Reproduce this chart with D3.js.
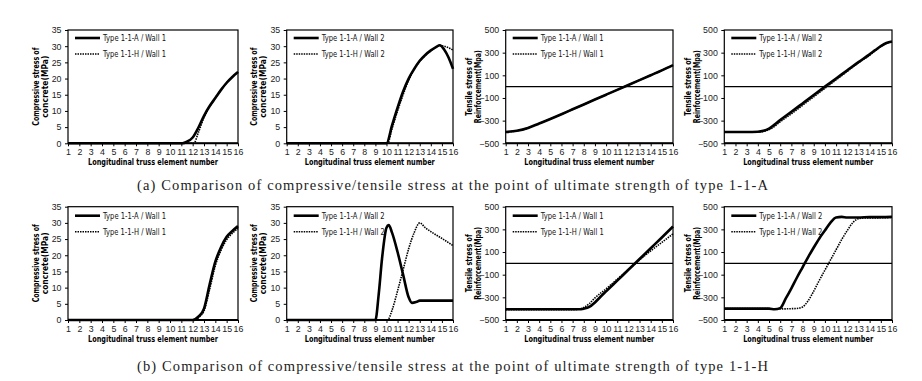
<!DOCTYPE html>
<html><head><meta charset="utf-8">
<script src="https://cdn.jsdelivr.net/npm/d3@7"></script>
<style>body{margin:0;background:#fff}svg{display:block}</style>
</head><body>
<svg id="c" width="922" height="381"></svg>
<script>
// ---------- tick labels ----------
const xTicks = d3.range(1, 17);
const compTicks = [0, 5, 10, 15, 20, 25, 30, 35];
const tensTicks = [-500, -300, -100, 100, 300, 500];
const xTitle = "Longitudinal truss element number";
const compTitle = ["Compressive stress of", "concrete(MPa)"];
const tensTitle = ["Tensile stress of", "Reinforcement(Mpa)"];
const captions = [
  "(a) Comparison of compressive/tensile stress at the point of ultimate strength of type 1-1-A",
  "(b) Comparison of compressive/tensile stress at the point of ultimate strength of type 1-1-H"
];
const ints = d3.range(1, 17);

// ---------- data (row a) ----------
const a1A_x = [1,2,3,4,5,6,7,8,9,10,11,11.1,11.5,12,12.5,13,13.5,14,14.5,15,15.5,16];
const a1A_y = [0,0,0,0,0,0,0,0,0,0,0,0,0.5,1.8,4.8,8.5,11.5,14,16.5,18.7,20.5,22];
const a1H_x = [1,2,3,4,5,6,7,8,9,10,11,12,12.1,12.5,13,13.5,14,14.5,15,15.5,16];
const a1H_y = [0,0,0,0,0,0,0,0,0,0,0,0,0,3.3,8,11.3,14,16.5,18.7,20.5,22];

const a2A_x = [1,2,3,4,5,6,7,8,9,10,10.5,11,11.5,12,12.5,13,13.5,14,14.5,14.8,15.2,15.6,16];
const a2A_y = [0,0,0,0,0,0,0,0,0,0,5.5,11,16,20,23,25.5,27.3,28.7,29.8,30.3,29,26.5,23];
const a2H_x = [1,2,3,4,5,6,7,8,9,10,10.1,10.5,11,11.5,12,12.5,13,13.5,14,14.5,14.8,15.2,15.6,16];
const a2H_y = [0,0,0,0,0,0,0,0,0,0,0,4.5,10,15,19.5,22.8,25.3,27.2,28.6,29.7,30.2,30,29.5,28.8];

const a3A_x = ints;
const a3A_y = [-400,-390,-365,-325,-285,-243,-200,-157,-114,-71,-28,15,58,101,144,190];
const a3H_x = ints;
const a3H_y = [-400,-390,-365,-325,-285,-243,-200,-157,-114,-71,-28,15,58,101,144,190];

const a4A_x = [1,2,3,4,4.5,5,5.5,6,7,8,9,10,11,12,13,14,14.5,15,15.5,16];
const a4A_y = [-400,-400,-400,-398,-390,-370,-335,-295,-222,-148,-74,0,72,144,216,285,322,358,385,398];
const a4H_x = [1,2,3,4,4.5,5,5.5,6,7,8,9,10,11,12,13,14,14.5,15,15.5,16];
const a4H_y = [-402,-402,-402,-400,-395,-380,-350,-310,-240,-165,-90,-15,60,135,210,278,318,355,383,397];

// ---------- data (row b) ----------
const b1A_x = [1,2,3,4,5,6,7,8,9,10,11,12,12.5,13,13.5,14,14.5,15,15.5,16];
const b1A_y = [0,0,0,0,0,0,0,0,0,0,0,0,1,3.5,11,18,22.5,25.7,27.5,29];
const b1H_x = [1,2,3,4,5,6,7,8,9,10,11,12,12.2,12.6,13,13.5,14,14.5,15,15.5,16];
const b1H_y = [0,0,0,0,0,0,0,0,0,0,0,0,0,1,2.8,9.5,16.8,21.5,24.8,26.8,28.3];

const b2A_x = [1,2,3,4,5,6,7,8,9,9.3,9.6,10,10.2,10.5,11,11.5,12,12.3,12.7,13,14,15,16];
const b2A_y = [0,0,0,0,0,0,0,0,0,8,19,28.5,29.3,27,21,14,7,5.3,5.6,6,6,6,6];
const b2H_x = [1,2,3,4,5,6,7,8,9,10,10.1,10.5,11,11.5,12,12.5,13,13.5,14,15,16];
const b2H_y = [0,0,0,0,0,0,0,0,0,0,0,3,9,15.5,22,27,30,28.5,27.3,25.2,23];

const b3A_x = [1,2,3,4,5,6,7,7.5,8,8.5,9,9.5,10,11,12,13,14,15,16];
const b3A_y = [-405,-405,-405,-405,-405,-405,-405,-405,-400,-385,-345,-295,-247,-152,-57,38,133,228,325];
const b3H_x = [1,2,3,4,5,6,7,7.5,8,8.5,9,10,11,12,13,14,15,16];
const b3H_y = [-410,-410,-410,-410,-410,-410,-410,-405,-390,-355,-305,-225,-140,-55,30,110,185,260];

const b4A_x = [1,2,3,4,5,5.5,6,6.5,7,7.5,8,8.5,9,9.5,10,10.5,11,11.5,12,13,14,15,16];
const b4A_y = [-400,-400,-400,-400,-400,-405,-395,-310,-220,-125,-35,55,140,220,290,360,405,410,405,405,408,408,410];
const b4H_x = [1,2,3,4,5,6,7,7.5,8,8.5,9,9.5,10,10.5,11,11.5,12,12.5,13,13.5,14,15,16];
const b4H_y = [-400,-400,-400,-400,-400,-402,-400,-398,-385,-330,-245,-150,-60,30,120,210,290,360,395,400,400,402,405];

// ---------- layout ----------
const cols = [[68, 238], [286.7, 453], [505.7, 673], [724.3, 892]];
const rows = [[30, 143.3], [206.7, 320]];
const panels = [
  {r:0,c:0,t:"c",w:1,A:[a1A_x,a1A_y],H:[a1H_x,a1H_y]},
  {r:0,c:1,t:"c",w:2,A:[a2A_x,a2A_y],H:[a2H_x,a2H_y]},
  {r:0,c:2,t:"t",w:1,A:[a3A_x,a3A_y],H:[a3H_x,a3H_y]},
  {r:0,c:3,t:"t",w:2,A:[a4A_x,a4A_y],H:[a4H_x,a4H_y]},
  {r:1,c:0,t:"c",w:1,A:[b1A_x,b1A_y],H:[b1H_x,b1H_y]},
  {r:1,c:1,t:"c",w:2,A:[b2A_x,b2A_y],H:[b2H_x,b2H_y]},
  {r:1,c:2,t:"t",w:1,A:[b3A_x,b3A_y],H:[b3H_x,b3H_y]},
  {r:1,c:3,t:"t",w:2,A:[b4A_x,b4A_y],H:[b4H_x,b4H_y]}
];

const svg = d3.select("#c");
const FONT = "'DejaVu Sans', Verdana, sans-serif";
const TFONT = "'Liberation Sans', Arial, sans-serif";

panels.forEach(p => {
  const [L, R] = cols[p.c];
  const [T, B] = rows[p.r];
  const comp = p.t === "c";
  const x = d3.scaleLinear().domain([1, 16]).range([L, R]);
  const y = d3.scaleLinear().domain(comp ? [0, 35] : [-500, 500]).range([B, T]);
  const g = svg.append("g");

  // axes
  const xa = g.append("g").attr("transform", `translate(0,${B})`)
    .call(d3.axisBottom(x).tickValues(xTicks).tickSize(3).tickPadding(2.5).tickFormat(d3.format("d")));
  const ya = g.append("g").attr("transform", `translate(${L},0)`)
    .call(d3.axisLeft(y).tickValues(comp ? compTicks : tensTicks).tickSize(3).tickPadding(3.5).tickFormat(d3.format("d")));
  [xa, ya].forEach(a => {
    a.select(".domain").remove();
    a.selectAll("text").attr("font-family", TFONT).attr("font-size", 8.8).attr("fill", "#222");
    a.selectAll("line").attr("stroke", "#000");
  });

  // box
  g.append("rect").attr("x", L).attr("y", T).attr("width", R - L).attr("height", B - T)
    .attr("fill", "none").attr("stroke", "#000").attr("stroke-width", 1.2);
  g.append("line").attr("x1", L).attr("x2", R).attr("y1", B).attr("y2", B)
    .attr("stroke", "#000").attr("stroke-width", 2);
  if (!comp) {
    g.append("line").attr("x1", L).attr("x2", R).attr("y1", y(0)).attr("y2", y(0))
      .attr("stroke", "#000").attr("stroke-width", 1.2);
  }

  // x title
  g.append("text").attr("x", (L + R) / 2).attr("y", p.r === 0 ? 165 : 342)
    .attr("text-anchor", "middle").attr("font-family", FONT).attr("font-weight", "bold")
    .attr("font-size", 8.3).attr("textLength", 130).attr("lengthAdjust", "spacingAndGlyphs")
    .text(xTitle);

  // y title
  const lines = comp ? compTitle : tensTitle;
  const offs = comp ? [32.5, 23.5] : [36.5, 27.5];
  const lens = comp ? [78, 62] : [58, 73];
  lines.forEach((s, i) => {
    const cx = L - offs[i], cy = (T + B) / 2;
    g.append("text").attr("transform", `translate(${cx},${cy}) rotate(-90)`)
      .attr("text-anchor", "middle").attr("dominant-baseline", "central")
      .attr("font-family", FONT).attr("font-weight", "bold").attr("font-size", 8.3)
      .attr("textLength", lens[i]).attr("lengthAdjust", "spacingAndGlyphs")
      .text(s);
  });

  // legend
  const lx = L + 7, ly = T + (p.r === 0 ? 8 : 9);
  [["A", 0], ["H", 16]].forEach(([k, dy]) => {
    g.append("line").attr("x1", lx).attr("x2", lx + 25).attr("y1", ly + dy).attr("y2", ly + dy)
      .attr("stroke", "#000").attr("stroke-width", k === "A" ? 2.6 : 1.6)
      .attr("stroke-dasharray", k === "A" ? null : "1.5,1");
    g.append("text").attr("x", lx + 28).attr("y", ly + dy).attr("dominant-baseline", "central")
      .attr("font-family", FONT).attr("font-size", 8.2).attr("fill", "#111")
      .attr("textLength", 63).attr("lengthAdjust", "spacingAndGlyphs")
      .text(`Type 1-1-${k} / Wall ${p.w}`);
  });

  // series
  const line = d3.line().x(d => x(d[0])).y(d => y(d[1])).curve(d3.curveMonotoneX);
  const toPts = s => s[0].map((v, i) => [v, s[1][i]]);
  g.append("path").datum(toPts(p.H)).attr("d", line).attr("fill", "none")
    .attr("stroke", "#000").attr("stroke-width", 1.6).attr("stroke-dasharray", "1.5,1");
  g.append("path").datum(toPts(p.A)).attr("d", line).attr("fill", "none")
    .attr("stroke", "#000").attr("stroke-width", 2.6);
});

// captions
captions.forEach((c, i) => {
  svg.append("text").attr("x", 137).attr("y", i === 0 ? 190 : 371)
    .attr("font-family", "'Liberation Serif', 'DejaVu Serif', serif").attr("font-size", 14.5)
    .attr("textLength", 631).attr("lengthAdjust", "spacing")
    .attr("fill", "#222").text(c);
});
</script>
</body></html>
